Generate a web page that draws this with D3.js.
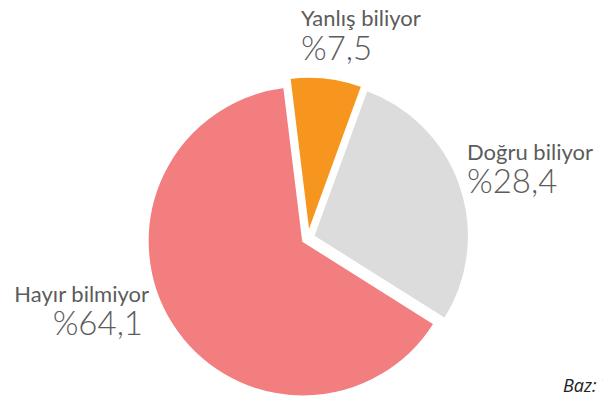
<!DOCTYPE html>
<html>
<head>
<meta charset="utf-8">
<script src="https://cdn.jsdelivr.net/npm/d3@7"></script>
<style>
  html, body { margin: 0; padding: 0; background: #fff; overflow: hidden; }
  svg { display: block; }
  .cat { font-family: Lato, "Open Sans", sans-serif; font-size: 22px; fill: #5c5c5c; }
  .pct { font-family: Lato, "Open Sans", sans-serif; font-size: 33px; font-weight: 300; fill: #5c5c5c; }
  .note { font-family: "Open Sans", Lato, sans-serif; font-size: 18px; font-style: italic; fill: #222; }
</style>
</head>
<body>
<div id="chart"></div>
<script>
// slice data, clockwise from just left of 12 o'clock
const categories = ['Yanlış biliyor', 'Doğru biliyor', 'Hayır bilmiyor'];
const values = [7.5, 28.4, 64.1];
const pctLabels = ['%7,5', '%28,4', '%64,1'];
const colors = ['#f6961f', '#dcdcdc', '#f27e80'];

const width = 603, height = 407;
const cx = 308, cy = 238;
const radius = 155;
const explode = 6;

// where each label block sits (anchor, x, baseline of name, baseline of percent)
const labelLayout = {
    'Yanlış biliyor': { anchor: 'start', x: 301, y1: 26, x2: 301, y2: 60 },
    'Doğru biliyor': { anchor: 'start', x: 467, y1: 160, x2: 467, y2: 193 },
    'Hayır bilmiyor': { anchor: 'end', x: 149, y1: 302, x2: 143, y2: 335 }
};

const svg = d3.select('#chart').append('svg')
    .attr('width', width)
    .attr('height', height);

const rows = categories.map((c, i) => ({ name: c, value: values[i], pct: pctLabels[i], color: colors[i] }));

const pie = d3.pie()
    .sort(null)
    .value(d => d.value)
    .startAngle(-7 * Math.PI / 180)
    .endAngle(-7 * Math.PI / 180 + Math.PI * 2);

const arc = d3.arc()
    .innerRadius(0)
    .outerRadius(radius);

const g = svg.append('g')
    .attr('transform', `translate(${cx},${cy})`);

g.selectAll('path')
    .data(pie(rows))
    .join('path')
    .attr('d', arc)
    .attr('fill', d => d.data.color)
    .attr('stroke', '#fff')
    .attr('stroke-width', 1.5)
    .attr('transform', d => {
        const mid = (d.startAngle + d.endAngle) / 2;
        return `translate(${Math.sin(mid) * explode},${-Math.cos(mid) * explode})`;
    });

const labels = svg.append('g');
rows.forEach(r => {
    const p = labelLayout[r.name];
    labels.append('text')
        .attr('class', 'cat')
        .attr('text-anchor', p.anchor)
        .attr('x', p.x)
        .attr('y', p.y1)
        .text(r.name);
    labels.append('text')
        .attr('class', 'pct')
        .attr('text-anchor', p.anchor)
        .attr('x', p.x2)
        .attr('y', p.y2)
        .text(r.pct);
});

// source note, runs off the right edge as in the original
svg.append('text')
    .attr('class', 'note')
    .attr('x', 563)
    .attr('y', 392)
    .text('Baz: Tüm katılımcılar');
</script>
</body>
</html>
